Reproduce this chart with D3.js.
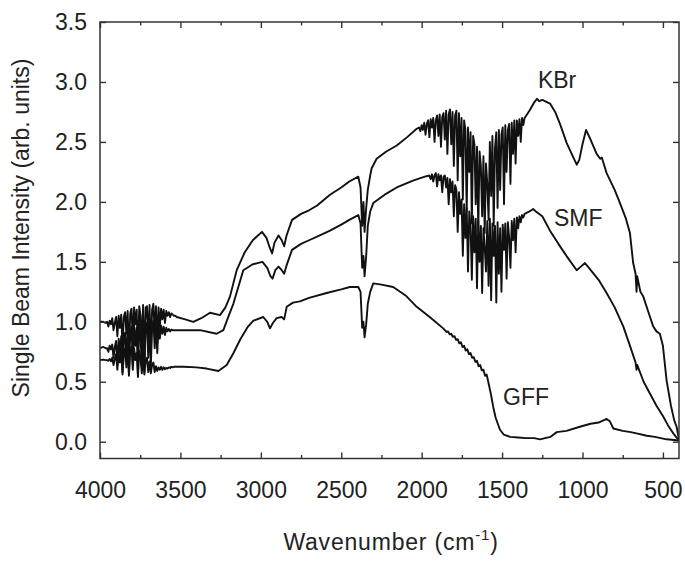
<!DOCTYPE html>
<html>
<head>
<meta charset="utf-8">
<script src="https://cdn.jsdelivr.net/npm/d3@7"></script>
<style>
  body { margin: 0; background: #fff; }
  svg { display: block; font-family: "Liberation Sans", Arial, Helvetica, sans-serif; }
  .tick text { fill: #222; font-size: 23px; }
  .spec { fill: none; stroke: #111; stroke-width: 1.9; stroke-linejoin: round; }
</style>
</head>
<body>
<div id="chart"></div>
<script>
// x ticks (wavenumber, cm-1) and y ticks
const xMajor = [4000, 3500, 3000, 2500, 2000, 1500, 1000, 500];
const xMinor = [3750, 3250, 2750, 2250, 1750, 1250, 750];
const yMajor = [0, 0.5, 1.0, 1.5, 2.0, 2.5, 3.0, 3.5];

// KBr spectrum: smooth parts as [wavenumber, intensity]
const kbrStart = [[4000, 1.0], [3980, 1.0], [3965, 0.99]];
const kbrMid = [[3532, 1.05], [3523, 1.04], [3470, 1.02], [3420, 1.0], [3370, 1.03], [3316, 1.075],
  [3254, 1.056], [3220, 1.12], [3192, 1.21], [3150, 1.43], [3100, 1.58], [3050, 1.68], [2993, 1.75],
  [2965, 1.70], [2945, 1.62], [2930, 1.57], [2915, 1.66], [2890, 1.72], [2870, 1.68], [2855, 1.63],
  [2840, 1.72], [2806, 1.85], [2750, 1.90], [2700, 1.93], [2650, 1.97], [2570, 2.06], [2500, 2.12],
  [2450, 2.17], [2394, 2.21], [2380, 2.12], [2370, 1.80], [2362, 2.0], [2355, 1.75], [2345, 1.95],
  [2335, 2.1], [2320, 2.22], [2311, 2.28], [2280, 2.36], [2220, 2.42], [2155, 2.47], [2090, 2.54],
  [2031, 2.61]];
const kbrEnd = [[1330, 2.76], [1300, 2.83], [1283, 2.86], [1270, 2.84], [1250, 2.85], [1202, 2.82],
  [1170, 2.75], [1140, 2.65], [1098, 2.49], [1060, 2.38], [1036, 2.31], [1020, 2.35], [1000, 2.48],
  [978, 2.60], [950, 2.52], [912, 2.40], [890, 2.36], [880, 2.37], [850, 2.24], [800, 2.10],
  [767, 1.99], [730, 1.86], [705, 1.74], [685, 1.49], [670, 1.40], [664, 1.25], [660, 1.38],
  [640, 1.25], [622, 1.21], [590, 1.08], [560, 0.96], [540, 0.92], [519, 0.90], [500, 0.80],
  [477, 0.51], [450, 0.30], [430, 0.18], [415, 0.125], [400, 0.02]];
// KBr noisy bands (water vapour), sampled every 8 cm-1
const kbrBandA = { from: 3956, step: 8, v: [
  1.00, 0.96, 1.01, 0.98, 1.03, 0.93, 0.99, 1.04, 0.88, 1.05, 0.95, 1.06, 0.78, 1.04, 1.08, 0.90,
  1.09, 0.72, 1.07, 1.11, 0.84, 1.12, 0.98, 1.10, 0.70, 1.13, 1.05, 0.80, 1.14, 0.66, 1.12, 1.13,
  0.86, 1.14, 0.74, 1.10, 1.15, 0.90, 1.13, 0.82, 1.12, 0.96, 1.11, 1.02, 1.10, 0.99, 1.09, 1.05,
  1.08, 1.04, 1.07, 1.06, 1.05] };
const kbrBandB = { from: 2016, step: 8, v: [
  2.62, 2.59, 2.64, 2.60, 2.66, 2.56, 2.65, 2.68, 2.54, 2.69, 2.62, 2.70, 2.50, 2.68, 2.72, 2.55,
  2.73, 2.46, 2.71, 2.74, 2.52, 2.76, 2.40, 2.73, 2.77, 2.48, 2.75, 2.30, 2.72, 2.76, 2.18, 2.74,
  2.38, 2.70, 2.02, 2.68, 2.60, 1.92, 2.62, 2.25, 2.58, 1.82, 2.55, 2.48, 1.98, 2.46, 1.76, 2.42,
  2.30, 1.88, 2.38, 1.74, 2.32, 2.15, 1.85, 2.50, 2.05, 2.55, 1.80, 2.45, 2.58, 1.95, 2.60, 2.10,
  2.56, 2.62, 1.98, 2.64, 2.25, 2.60, 2.65, 2.15, 2.66, 2.40, 2.68, 2.32, 2.68, 2.55, 2.69, 2.50,
  2.70, 2.64, 2.70] };

// SMF spectrum
const smfStart = [[4000, 0.78], [3980, 0.79], [3965, 0.78]];
const smfMid = [[3532, 0.93], [3461, 0.93], [3378, 0.93], [3275, 0.90], [3233, 0.93], [3200, 1.05],
  [3171, 1.15], [3109, 1.43], [3050, 1.48], [2990, 1.50], [2960, 1.45], [2940, 1.38], [2927, 1.36],
  [2910, 1.43], [2890, 1.46], [2870, 1.43], [2855, 1.40], [2840, 1.47], [2806, 1.60], [2750, 1.65],
  [2700, 1.68], [2650, 1.71], [2570, 1.76], [2500, 1.81], [2450, 1.85], [2394, 1.89], [2380, 1.82],
  [2370, 1.45], [2362, 1.55], [2355, 1.38], [2345, 1.55], [2335, 1.80], [2320, 1.92], [2301, 1.99],
  [2230, 2.06], [2155, 2.12], [2050, 2.18], [1980, 2.21]];
const smfEnd = [[1330, 1.92], [1307, 1.94], [1290, 1.92], [1250, 1.88], [1202, 1.76], [1150, 1.65],
  [1100, 1.55], [1036, 1.43], [1010, 1.46], [985, 1.49], [960, 1.45], [900, 1.35], [850, 1.24],
  [800, 1.12], [746, 0.96], [700, 0.78], [670, 0.66], [664, 0.60], [660, 0.64], [620, 0.50],
  [580, 0.40], [540, 0.30], [498, 0.21], [470, 0.14], [436, 0.07], [400, 0.01]];
const smfBandA = { from: 3956, step: 8, v: [
  0.78, 0.75, 0.80, 0.77, 0.81, 0.70, 0.79, 0.84, 0.64, 0.86, 0.74, 0.88, 0.58, 0.85, 0.91, 0.68,
  0.93, 0.56, 0.90, 0.96, 0.64, 0.97, 0.80, 0.95, 0.55, 0.98, 0.88, 0.62, 1.00, 0.58, 0.97, 0.99,
  0.70, 1.00, 0.62, 0.96, 1.01, 0.78, 0.99, 0.74, 0.98, 0.86, 0.97, 0.90, 0.96, 0.89, 0.95, 0.92,
  0.94, 0.92, 0.935, 0.93, 0.93] };
const smfBandB = { from: 1952, step: 8, v: [
  2.22, 2.19, 2.23, 2.17, 2.22, 2.24, 2.13, 2.23, 2.18, 2.22, 2.08, 2.21, 2.22, 2.12, 2.20, 1.98,
  2.19, 2.08, 2.17, 1.88, 2.14, 2.10, 1.75, 2.08, 1.90, 2.02, 1.55, 1.98, 1.70, 1.95, 1.42, 1.92,
  1.80, 1.35, 1.88, 1.58, 1.86, 1.28, 1.84, 1.50, 1.80, 1.24, 1.78, 1.62, 1.42, 1.84, 1.30, 1.86,
  1.18, 1.82, 1.55, 1.80, 1.16, 1.83, 1.40, 1.78, 1.25, 1.81, 1.60, 1.82, 1.36, 1.83, 1.70, 1.45,
  1.84, 1.68, 1.86, 1.58, 1.87, 1.78, 1.88, 1.83, 1.89, 1.87, 1.90] };

// GFF spectrum
const gffStart = [[4000, 0.68], [3980, 0.685], [3965, 0.68]];
const gffMid = [[3532, 0.625], [3482, 0.625], [3400, 0.62], [3337, 0.61], [3264, 0.59], [3212, 0.64],
  [3170, 0.74], [3129, 0.85], [3080, 0.96], [3046, 1.01], [2985, 1.04], [2960, 1.0], [2943, 0.945],
  [2925, 0.99], [2902, 1.03], [2871, 1.04], [2855, 1.02], [2839, 1.125], [2800, 1.16], [2757, 1.17],
  [2700, 1.20], [2591, 1.24], [2500, 1.27], [2446, 1.29], [2394, 1.29], [2380, 1.25], [2370, 0.95],
  [2362, 1.0], [2355, 0.87], [2345, 0.98], [2335, 1.15], [2320, 1.25], [2301, 1.32], [2250, 1.31],
  [2177, 1.29], [2100, 1.22], [2031, 1.125], [1950, 1.04], [1866, 0.945]];
const gffEnd = [[1570, 0.40], [1555, 0.29], [1540, 0.20], [1513, 0.10], [1490, 0.06], [1450, 0.04],
  [1400, 0.035], [1350, 0.03], [1300, 0.03], [1264, 0.02], [1200, 0.04], [1160, 0.08], [1100, 0.09],
  [1016, 0.125], [950, 0.15], [900, 0.16], [850, 0.19], [830, 0.17], [808, 0.11], [750, 0.09],
  [700, 0.08], [664, 0.07], [600, 0.05], [550, 0.04], [477, 0.02], [400, 0.01]];
const gffBandA = { from: 3956, step: 8, v: [
  0.68, 0.675, 0.69, 0.67, 0.70, 0.64, 0.69, 0.73, 0.60, 0.74, 0.66, 0.76, 0.56, 0.72, 0.78, 0.62,
  0.80, 0.55, 0.75, 0.79, 0.60, 0.78, 0.68, 0.74, 0.54, 0.76, 0.70, 0.57, 0.72, 0.56, 0.68, 0.70,
  0.58, 0.67, 0.57, 0.64, 0.66, 0.58, 0.63, 0.59, 0.62, 0.60, 0.625, 0.60, 0.62, 0.605, 0.615, 0.61,
  0.62, 0.615, 0.625, 0.62, 0.625] };
const gffBandB = { from: 1856, step: 10, v: [
  0.93, 0.915, 0.92, 0.895, 0.90, 0.875, 0.88, 0.85, 0.855, 0.82, 0.83, 0.79, 0.80, 0.76, 0.77, 0.73,
  0.74, 0.70, 0.705, 0.665, 0.675, 0.63, 0.64, 0.595, 0.60, 0.55, 0.56, 0.50] };

const labels = [
  { text: "KBr", w: 1277, v: 2.95 },
  { text: "SMF", w: 1177, v: 1.80 },
  { text: "GFF", w: 1494, v: 0.31 }
];

function band(b) {
  return b.v.map((v, i) => [b.from - i * b.step, v]);
}
const series = [
  [...kbrStart, ...band(kbrBandA), ...kbrMid, ...band(kbrBandB), ...kbrEnd],
  [...smfStart, ...band(smfBandA), ...smfMid, ...band(smfBandB), ...smfEnd],
  [...gffStart, ...band(gffBandA), ...gffMid, ...band(gffBandB), ...gffEnd]
];

const W = 685, H = 565;
const margin = {top: 22, right: 6, bottom: 106.5, left: 100};
const width = W - margin.left - margin.right,
      height = H - margin.top - margin.bottom;

const svg = d3.select("#chart").append("svg")
    .attr("width", W)
    .attr("height", H);
const g = svg.append("g")
    .attr("transform", `translate(${margin.left}, ${margin.top})`);

const x = d3.scaleLinear().domain([4000, 400]).range([0, width]);
const y = d3.scaleLinear().domain([-0.14, 3.5]).range([height, 0]);

g.append("clipPath").attr("id", "plotclip")
  .append("rect").attr("width", width).attr("height", height);

const line = d3.line().x(d => x(d[0])).y(d => y(d[1]));
g.append("g").attr("clip-path", "url(#plotclip)")
  .selectAll("path").data(series).enter().append("path")
    .attr("class", "spec")
    .attr("d", line);

// axes, ticks pointing inward
function styleAxis(sel) {
  sel.select(".domain").remove();
  sel.selectAll(".tick line").attr("stroke", "#333").attr("stroke-width", 1.4);
}
g.append("g").attr("transform", `translate(0, ${height})`)
  .call(d3.axisBottom(x).tickValues(xMajor).tickSizeInner(-6).tickSizeOuter(0).tickPadding(23)
    .tickFormat(d3.format("d")))
  .call(styleAxis);
g.append("g").attr("transform", `translate(0, ${height})`)
  .call(d3.axisBottom(x).tickValues(xMinor).tickSizeInner(-3.5).tickSizeOuter(0).tickFormat(""))
  .call(styleAxis);
g.append("g")
  .call(d3.axisTop(x).tickValues(xMajor).tickSizeInner(-6).tickSizeOuter(0).tickFormat(""))
  .call(styleAxis);
g.append("g")
  .call(d3.axisTop(x).tickValues(xMinor).tickSizeInner(-3.5).tickSizeOuter(0).tickFormat(""))
  .call(styleAxis);
g.append("g")
  .call(d3.axisLeft(y).tickValues(yMajor).tickSizeInner(-6).tickSizeOuter(0).tickPadding(13)
    .tickFormat(d3.format(".1f")))
  .call(styleAxis);
g.append("g").attr("transform", `translate(${width}, 0)`)
  .call(d3.axisRight(y).tickValues(yMajor).tickSizeInner(-6).tickSizeOuter(0).tickFormat(""))
  .call(styleAxis);

g.append("rect")
  .attr("width", width).attr("height", height)
  .attr("fill", "none").attr("stroke", "#333").attr("stroke-width", 1.5);

// series labels
g.selectAll(".lbl").data(labels).enter().append("text")
  .attr("class", "lbl")
  .attr("x", d => x(d.w))
  .attr("y", d => y(d.v))
  .attr("font-size", 23)
  .attr("fill", "#222")
  .text(d => d.text);

// axis titles
const xt = svg.append("text")
  .attr("x", 391).attr("y", 550)
  .attr("text-anchor", "middle")
  .attr("font-size", 23).attr("letter-spacing", 0.8).attr("fill", "#222");
xt.append("tspan").text("Wavenumber (cm");
xt.append("tspan").attr("dy", -10).attr("font-size", 15).text("-1");
xt.append("tspan").attr("dy", 10).text(")");

svg.append("text")
  .attr("transform", "translate(29, 228) rotate(-90)")
  .attr("text-anchor", "middle")
  .attr("font-size", 23).attr("fill", "#222")
  .text("Single Beam Intensity (arb. units)");
</script>
</body>
</html>
